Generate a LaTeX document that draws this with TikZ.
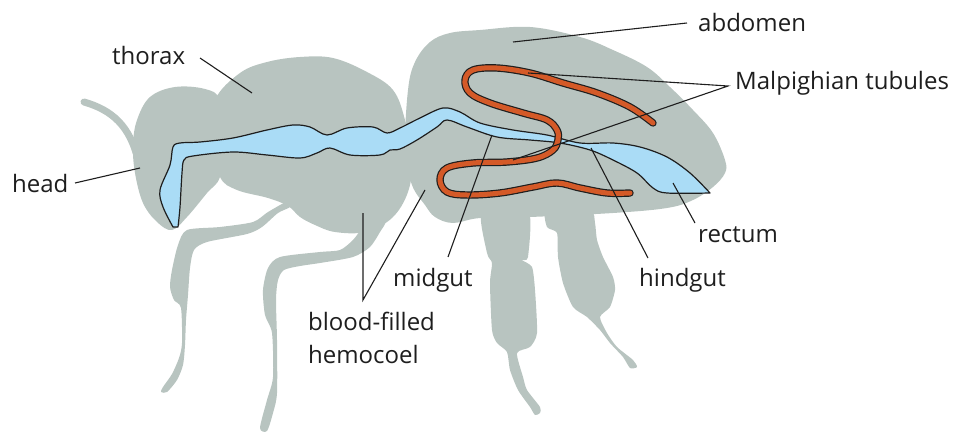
\documentclass[tikz,border=0pt]{standalone}
\usepackage{fontspec}
\setmainfont{Open Sans}
\definecolor{bodygray}{RGB}{184,196,192}
\definecolor{gutblue}{RGB}{170,220,246}
\definecolor{tubeorange}{RGB}{212,90,40}
\definecolor{ink}{RGB}{30,30,30}
\begin{document}
\begin{tikzpicture}[x=1pt,y=-1pt,
  body/.style={fill=bodygray,draw=none},
  gut/.style={fill=gutblue,draw=ink,line width=1.2pt,line join=round},
  tubule/.style={draw=ink,line width=1.2pt,double=tubeorange,double distance=5pt,line cap=round},
  leader/.style={draw=ink,line width=1.1pt},
  lbl/.style={font=\fontsize{24}{33}\selectfont,text=ink,inner sep=0pt,anchor=base west}]
\useasboundingbox (0,0) rectangle (959,433);

% antenna
\draw[bodygray,line width=7pt,line cap=round] (84,102) .. controls (112,110) and (130,126) .. (138,160);

% head
\fill[body] plot[smooth cycle,tension=0.6] coordinates {(133,145) (137,120) (150,97) (175,87) (205,89) (220,100) (225,140) (220,177) (207,193) (187,217) (172,230) (157,222) (143,203) (135,173)};

% thorax
\fill[body] plot[smooth cycle,tension=0.6] coordinates {(212,140) (215,100) (240,73) (267,62) (300,57) (333,58) (367,72) (393,90) (405,120) (412,160) (408,192) (392,218) (365,232) (335,232) (315,225) (300,217) (288,206) (268,198) (237,190) (220,177)};

% abdomen
\fill[body] plot[smooth cycle,tension=0.6] coordinates {(408,90) (415,62) (430,42) (450,33) (480,30) (530,27) (580,37) (613,50) (647,67) (670,87) (693,110) (713,133) (725,160) (725,173) (713,187) (693,200) (667,208) (613,213) (530,217) (480,218) (453,223) (435,217) (425,205) (412,185) (405,150)};

% front leg
\fill[body] plot[smooth cycle,tension=0.45] coordinates {(290,200) (268,212) (253,222) (220,227) (187,230) (178,245) (172,270) (170,287) (174,300) (181,308) (182,343) (179,358) (172,374) (163,387) (161,392) (167,392) (177,380) (183,365) (185,345) (186,320) (188,295) (190,268) (194,250) (207,242) (247,234) (262,227) (278,213) (290,207)};

% middle leg
\fill[body] plot[smooth cycle,tension=0.45] coordinates {(365,226) (353,240) (340,250) (320,252) (280,257) (268,268) (263,290) (265,315) (272,333) (273,377) (267,400) (260,428) (267,431) (273,413) (277,393) (277,340) (276,300) (278,280) (284,270) (300,266) (320,263) (353,257) (370,247) (380,232) (385,222)};

% hind legs
\fill[body] plot[smooth cycle,tension=0.4] coordinates {(482,210) (487,253) (492,263) (490,283) (492,330) (497,343) (507,352) (510,370) (518,390) (530,407) (535,415) (540,413) (540,407) (527,390) (523,377) (517,353) (530,347) (537,333) (535,290) (532,267) (522,260) (528,257) (528,210)};
\fill[body] plot[smooth cycle,tension=0.4] coordinates {(547,210) (547,227) (557,233) (558,257) (563,283) (573,307) (587,317) (600,330) (610,343) (623,357) (630,368) (637,367) (633,360) (617,347) (607,333) (600,317) (610,307) (615,290) (613,277) (603,257) (597,240) (595,223) (590,210)};

% digestive tract
\draw[gut] plot[smooth,tension=0.55] coordinates {(178,227) (180,207) (182,173) (184,160) (193,156) (233,152) (267,155) (300,158) (317,153) (330,148) (350,155) (380,155) (390,150) (400,149) (417,140) (437,127) (447,120) (467,127) (497,137) (530,140) (560,143) (590,150) (613,160) (637,173) (653,188) (667,193) (710,193)}
  -- plot[smooth,tension=0.55] coordinates {(710,193) (690,173) (667,157) (640,147) (613,143) (580,143) (547,135) (513,130) (480,123) (460,112) (443,108) (420,118) (400,128) (387,133) (373,127) (347,128) (327,135) (310,127) (293,125) (267,130) (233,138) (200,142) (180,143) (173,147) (170,165) (160,190) (163,207) (173,227)} -- cycle;

% Malpighian tubule
\draw[tubule] plot[smooth,tension=0.6] coordinates {(653,123) (630,107) (597,93) (563,83) (530,73) (497,68) (473,70) (465,80) (470,93) (490,103) (523,113) (547,120) (557,130) (558,140) (553,150) (537,158) (507,162) (473,163) (447,168) (440,180) (447,192) (467,195) (500,193) (533,187) (557,183) (580,188) (607,193) (630,193)};

% labels
\node[lbl] (thorax) at (112,65) {thorax};
\node[lbl] (head) at (12,193) {head};
\node[lbl] (abdomen) at (698,32) {abdomen};
\node[lbl] (malp) at (735,90) {Malpighian tubules};
\node[lbl] (rectum) at (698,242) {rectum};
\node[lbl] (hindgut) at (639,286) {hindgut};
\node[lbl] (midgut) at (393,286) {midgut};
\node[font=\fontsize{24}{33}\selectfont,text=ink,inner sep=0pt,anchor=north west,align=left] (hemo) at (308,312) {blood-filled\\hemocoel};

% leader end points
\coordinate (thorax-s) at (200,58);   \coordinate (thorax-t) at (252,93);
\coordinate (head-s) at (75,183);     \coordinate (head-t) at (140,168);
\coordinate (abd-s) at (687,23);      \coordinate (abd-t) at (513,42);
\coordinate (malp-s) at (728,86);     \coordinate (malp-t1) at (528,73); \coordinate (malp-t2) at (513,160);
\coordinate (mid-s) at (448,257);     \coordinate (mid-t) at (492,135);
\coordinate (hemo-s) at (363,300);    \coordinate (hemo-t1) at (363,213); \coordinate (hemo-t2) at (425,190);
\coordinate (hind-s) at (648,258);    \coordinate (hind-t) at (591,148);
\coordinate (rect-s) at (695,223);    \coordinate (rect-t) at (673,183);

\draw[leader] (thorax-s) -- (thorax-t);
\draw[leader] (head-s) -- (head-t);
\draw[leader] (abd-s) -- (abd-t);
\draw[leader] (malp-t1) -- (malp-s) -- (malp-t2);
\draw[leader] (mid-s) -- (mid-t);
\draw[leader] (hemo-t1) -- (hemo-s) -- (hemo-t2);
\draw[leader] (hind-s) -- (hind-t);
\draw[leader] (rect-s) -- (rect-t);
\end{tikzpicture}
\end{document}
